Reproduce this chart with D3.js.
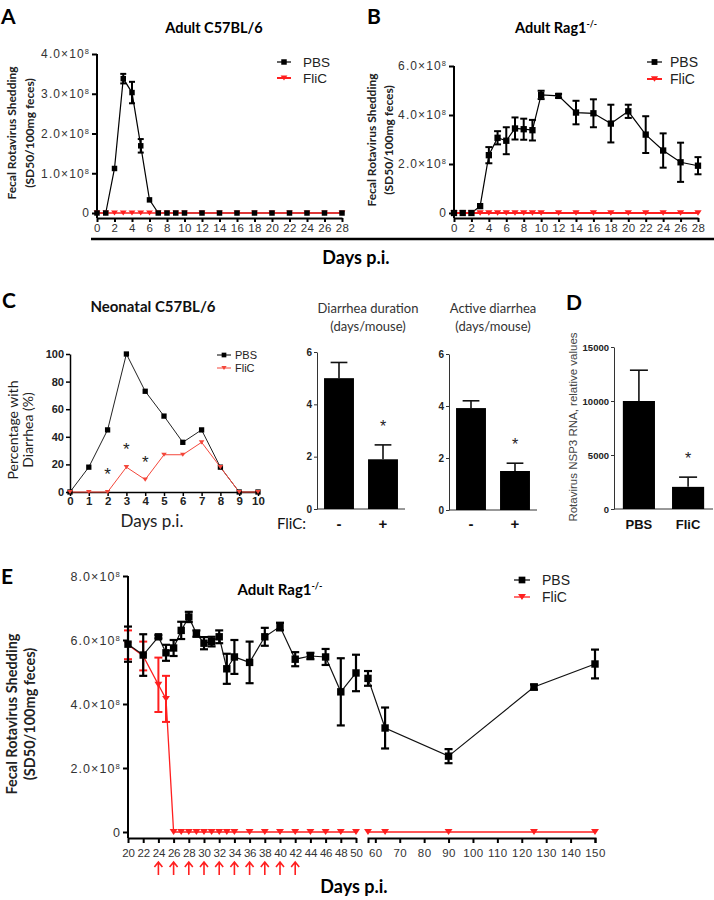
<!DOCTYPE html>
<html><head><meta charset="utf-8">
<script src="https://cdn.jsdelivr.net/npm/d3@7"></script>
<style>body{margin:0;background:#fff}</style>
</head><body>
<svg id="c" width="714" height="900"></svg>
<script>
// ================= DATA =================
// Panel A – Adult C57BL/6 (fecal shedding)
const daysA = [0,1,2,3,4,5,6,7,8,9,10,12,14,16,18,20,22,24,26,28];
const pbsA = [0,0,1.12e8,3.38e8,3.03e8,1.69e8,0.33e8,0,0,0,0,0,0,0,0,0,0,0,0,0];
const pbsAErr = [0,0,0,0.12e8,0.27e8,0.17e8,0,0,0,0,0,0,0,0,0,0,0,0,0,0];
const flicA = [0,0,0,0,0,0,0,0,0,0,0,0,0,0,0,0,0,0,0,0];
const xTicksA = [0,2,4,6,8,10,12,14,16,18,20,22,24,26,28];
const yTicksA = [0,1e8,2e8,3e8,4e8];

// Panel B – Adult Rag1-/-
const daysB = [0,1,2,3,4,5,6,7,8,9,10,12,14,16,18,20,22,24,26,28];
const pbsB = [0,0,0,0.28e8,2.36e8,3.07e8,2.95e8,3.45e8,3.42e8,3.38e8,4.82e8,4.78e8,4.1e8,4.07e8,3.65e8,4.15e8,3.2e8,2.55e8,2.07e8,1.93e8];
const pbsBErr = [0,0,0,0,0.33e8,0.27e8,0.55e8,0.45e8,0.43e8,0.42e8,0.17e8,0.08e8,0.48e8,0.57e8,0.77e8,0.27e8,0.75e8,0.7e8,0.8e8,0.35e8];
const flicB = [0,0,0,0,0,0,0,0,0,0,0,0,0,0,0,0,0,0,0,0];
const xTicksB = [0,2,4,6,8,10,12,14,16,18,20,22,24,26,28];
const yTicksB = [0,2e8,4e8,6e8];

// Panel C – Neonatal C57BL/6 (% with diarrhea)
const daysC = [0,1,2,3,4,5,6,7,8,9,10];
const pbsC = [0,18,45,100,73,55,36,45,18,0,0];
const flicC = [0,0,0,18,9,27,27,36,18,0,0];
const sigDaysC = [2,3,4];
const sigLevelC = [15,33,24];
const yTicksC = [0,20,40,60,80,100];

// Panel C bars
const flicGroups = ["-","+"];
const durationMean = [5.0,1.9];
const durationSem = [0.6,0.55];
const activeMean = [3.92,1.5];
const activeSem = [0.28,0.3];
const yTicksBar = [0,2,4,6];

// Panel D
const nsp3Groups = ["PBS","FliC"];
const nsp3Mean = [10000,2050];
const nsp3Sem = [2850,900];
const yTicksD = [0,5000,10000,15000];

// Panel E – Adult Rag1-/- long term
const daysE = [20,22,24,25,26,27,28,29,30,31,32,33,34,36,38,40,42,44,46,48,50,57,64,90,125,150];
const pbsE = [5.87e8,5.53e8,6.1e8,5.6e8,5.75e8,6.3e8,6.72e8,6.2e8,5.9e8,5.95e8,6.1e8,5.1e8,5.47e8,5.3e8,6.1e8,6.42e8,5.4e8,5.5e8,5.47e8,4.38e8,4.97e8,4.8e8,3.25e8,2.37e8,4.53e8,5.25e8];
const pbsEErr = [0.55e8,0.65e8,0.05e8,0.25e8,0.25e8,0.27e8,0.16e8,0.1e8,0.19e8,0.15e8,0.2e8,0.47e8,0.53e8,0.65e8,0.28e8,0.12e8,0.22e8,0.1e8,0.25e8,1.05e8,0.57e8,0.23e8,0.64e8,0.22e8,0.08e8,0.45e8];
const flicE = [5.85e8,5.5e8,4.6e8,4.16e8,0,0,0,0,0,0,0,0,0,0,0,0,0,0,0,0,0,0,0,0,0,0];
const flicEErr = [0.45e8,0.45e8,0.85e8,0.72e8,0,0,0,0,0,0,0,0,0,0,0,0,0,0,0,0,0,0,0,0,0,0];
const doseDaysE = [24,26,28,30,32,34,36,38,40,42];
const xTicksE1 = [20,22,24,26,28,30,32,34,36,38,40,42,44,46,48,50];
const xTicksE2 = [60,70,80,90,100,110,120,130,140,150];
const yTicksE = [0,2e8,4e8,6e8,8e8];

// ================= DRAWING =================
const svg = d3.select("#c");
const FA = "'Liberation Sans', Arial, Helvetica, sans-serif";
const FC = "Lato, 'Open Sans', sans-serif";
const RED = "#ff1f1f";
const RED_C = "#f4473b";

const triDown = { draw(ctx, size) { const w = Math.sqrt(size) * 1.25, h = w * 0.75;
  ctx.moveTo(-w/2, -h/2); ctx.lineTo(w/2, -h/2); ctx.lineTo(0, h/2); ctx.closePath(); } };
const squareT = { draw(ctx, size) { const s = Math.sqrt(size);
  ctx.rect(-s/2, -s/2, s, s); } };

function txt(g, x, y, s, o = {}) {
  const t = g.append("text").attr("x", x).attr("y", y)
    .attr("font-family", o.ff || FC).attr("font-size", o.fs || 12)
    .attr("font-weight", o.fw || "normal").attr("fill", o.fill || "#000")
    .attr("text-anchor", o.anchor || "start");
  if (o.ls) t.attr("letter-spacing", o.ls);
  if (o.rot) t.attr("transform", `rotate(${o.rot},${x},${y})`);
  t.text(s);
  return t;
}
function sciTicks(g) {
  g.selectAll(".tick text").each(function(d) {
    const t = d3.select(this); t.text(null);
    if (d === 0) { t.text("0"); return; }
    t.append("tspan").text((d / 1e8).toFixed(1) + "×10");
    t.append("tspan").attr("dy", -4).attr("font-size", "0.62em").text("8");
  });
}
function styleAxis(g, o) {
  if (o.noDomain) g.select(".domain").remove();
  g.select(".domain").attr("stroke", o.stroke || "#000").attr("stroke-width", o.sw || 1.5);
  g.selectAll(".tick line").attr("stroke", o.stroke || "#000").attr("stroke-width", o.sw || 1.5);
  g.selectAll(".tick text").attr("font-family", o.ff || FA).attr("font-size", o.fs || 11)
    .attr("fill", o.fill || "#333").attr("font-weight", o.fw || "normal");
  if (o.ls) g.selectAll(".tick text").attr("letter-spacing", o.ls);
}
function drawLine(g, days, vals, x, y, color, w, segFn) {
  const line = d3.line().x(d => x(d[0])).y(d => y(d[1]));
  const pts = days.map((d, i) => [d, vals[i]]);
  const groups = segFn ? d3.groups(pts, p => segFn(p[0])).map(a => a[1]) : [pts];
  groups.forEach(p => g.append("path").attr("d", line(p)).attr("fill", "none")
    .attr("stroke", color).attr("stroke-width", w));
}
function drawErr(g, days, vals, errs, x, y, color, w, cap) {
  days.forEach((d, i) => {
    if (!errs[i]) return;
    const cx = x(d), y1 = y(vals[i] + errs[i]), y0 = y(vals[i] - errs[i]);
    g.append("line").attr("x1", cx).attr("x2", cx).attr("y1", y1).attr("y2", y0).attr("stroke", color).attr("stroke-width", w);
    [y1, y0].forEach(yy => g.append("line").attr("x1", cx - cap/2).attr("x2", cx + cap/2)
      .attr("y1", yy).attr("y2", yy).attr("stroke", color).attr("stroke-width", w));
  });
}
function drawMarks(g, days, vals, x, y, color, type, size) {
  const sym = d3.symbol().type(type).size(size);
  days.forEach((d, i) => g.append("path").attr("d", sym())
    .attr("transform", `translate(${x(d)},${y(vals[i])})`).attr("fill", color));
}
function legendItem(g, x0, x1, tx, yy, color, type, size, label, fs, lw) {
  g.append("line").attr("x1", x0).attr("x2", x1).attr("y1", yy).attr("y2", yy).attr("stroke", color).attr("stroke-width", lw || 1.2);
  g.append("path").attr("d", d3.symbol().type(type).size(size)()).attr("transform", `translate(${(x0+x1)/2},${yy})`).attr("fill", color);
  txt(g, tx, yy + fs * 0.36, label, { ff: FA, fs: fs, fill: "#222" });
}
function titleWithSup(g, x, y, main, sup, fs) {
  const t = g.append("text").attr("x", x).attr("y", y).attr("text-anchor", "middle")
    .attr("font-family", FC).attr("font-size", fs).attr("font-weight", "bold");
  t.append("tspan").text(main);
  t.append("tspan").attr("dy", -6).attr("font-size", fs * 0.6).text(sup);
}

// ---------- Panel A ----------
{
  const g = svg.append("g");
  const x = d3.scaleLinear().domain([0, 28]).range([97, 342]);
  const y = d3.scaleLinear().domain([0, 4e8]).range([213, 54]);
  txt(g, 1, 24, "A", { fs: 21, fw: "bold" });
  txt(g, 214, 33, "Adult C57BL/6", { fs: 14.5, fw: "bold", anchor: "middle" });
  g.append("line").attr("x1", 97).attr("x2", 97).attr("y1", 54).attr("y2", 218).attr("stroke", "#000").attr("stroke-width", 2);
  const ay = g.append("g").attr("transform", "translate(97,0)")
    .call(d3.axisLeft(y).tickValues(yTicksA).tickSize(5).tickPadding(2));
  styleAxis(ay, { noDomain: true, sw: 2, fs: 12, ls: 1.1 }); sciTicks(ay);
  const ax = g.append("g").attr("transform", "translate(0,218)")
    .call(d3.axisBottom(x).tickValues(xTicksA).tickSize(4).tickSizeOuter(0).tickPadding(2));
  styleAxis(ax, { sw: 2, fs: 11.5, ls: 0.4 });
  txt(g, 16, 133, "Fecal Rotavirus Shedding", { fs: 12, fw: "bold", anchor: "middle", rot: -90, fill: "#222" });
  txt(g, 34, 133, "(SD50/100mg feces)", { fs: 12, fw: "bold", anchor: "middle", rot: -90, fill: "#222" });
  drawLine(g, daysA, pbsA, x, y, "#000", 1.2);
  drawLine(g, daysA, flicA, x, y, RED, 1.6);
  drawErr(g, daysA, pbsA, pbsAErr, x, y, "#000", 2, 6);
  drawMarks(g, daysA, flicA, x, y, RED, triDown, 30);
  drawMarks(g, daysA, pbsA, x, y, "#000", squareT, 30);
  legendItem(g, 277, 291, 303, 62, "#000", squareT, 30, "PBS", 13.5);
  legendItem(g, 277, 291, 303, 78, RED, triDown, 30, "FliC", 13.5, 2);
}

// ---------- Panel B ----------
{
  const g = svg.append("g");
  const x = d3.scaleLinear().domain([0, 28]).range([454, 698]);
  const y = d3.scaleLinear().domain([0, 6e8]).range([213, 66]);
  txt(g, 367, 24, "B", { fs: 21, fw: "bold" });
  titleWithSup(g, 556, 33, "Adult Rag1", "-/-", 14.5);
  g.append("line").attr("x1", 454).attr("x2", 454).attr("y1", 66).attr("y2", 218).attr("stroke", "#000").attr("stroke-width", 2);
  const ay = g.append("g").attr("transform", "translate(454,0)")
    .call(d3.axisLeft(y).tickValues(yTicksB).tickSize(5).tickPadding(2));
  styleAxis(ay, { noDomain: true, sw: 2, fs: 12, ls: 1.1 }); sciTicks(ay);
  const ax = g.append("g").attr("transform", "translate(0,218)")
    .call(d3.axisBottom(x).tickValues(xTicksB).tickSize(4).tickSizeOuter(0).tickPadding(2));
  styleAxis(ax, { sw: 2, fs: 11.5, ls: 0.4 });
  txt(g, 376, 140, "Fecal Rotavirus Shedding", { fs: 12, fw: "bold", anchor: "middle", rot: -90, fill: "#222" });
  txt(g, 393, 140, "(SD50/100mg feces)", { fs: 12, fw: "bold", anchor: "middle", rot: -90, fill: "#222" });
  drawLine(g, daysB, pbsB, x, y, "#000", 1.2);
  drawLine(g, daysB, flicB, x, y, RED, 1.8);
  drawErr(g, daysB, pbsB, pbsBErr, x, y, "#000", 2, 7);
  drawMarks(g, daysB, flicB, x, y, RED, triDown, 34);
  drawMarks(g, daysB, pbsB, x, y, "#000", squareT, 40);
  legendItem(g, 647, 662, 670, 62, "#000", squareT, 34, "PBS", 14);
  legendItem(g, 647, 662, 670, 79, RED, triDown, 34, "FliC", 14, 2);
}
// shared x-axis title for A and B
svg.append("line").attr("x1", 91).attr("x2", 714).attr("y1", 239).attr("y2", 239).attr("stroke", "#000").attr("stroke-width", 2.5);
txt(svg, 356, 264, "Days p.i.", { fs: 18, fw: "bold", anchor: "middle" });

// ---------- Panel C (line) ----------
{
  const g = svg.append("g");
  const x = d3.scaleLinear().domain([0, 10]).range([70, 258]);
  const y = d3.scaleLinear().domain([0, 100]).range([492, 354]);
  txt(g, 2, 308, "C", { fs: 21, fw: "bold" });
  txt(g, 153, 312, "Neonatal C57BL/6", { fs: 15, fw: "bold", anchor: "middle", fill: "#111" });
  const ay = g.append("g").attr("transform", "translate(70,0)")
    .call(d3.axisLeft(y).tickValues(yTicksC).tickSize(4).tickSizeOuter(0).tickPadding(2));
  styleAxis(ay, { sw: 1.5, fs: 11, fw: "bold", fill: "#222" });
  const ax = g.append("g").attr("transform", "translate(0,492)")
    .call(d3.axisBottom(x).tickValues(daysC).tickSize(4).tickSizeOuter(0).tickPadding(1));
  styleAxis(ax, { sw: 1.5, fs: 11.5, fw: "bold", fill: "#222" });
  txt(g, 18, 430, "Percentage with", { fs: 14, anchor: "middle", rot: -90, fill: "#222" });
  txt(g, 33, 430, "Diarrhea (%)", { fs: 14, anchor: "middle", rot: -90, fill: "#222" });
  txt(g, 152, 527, "Days p.i.", { fs: 17, anchor: "middle", fill: "#222" });
  drawLine(g, daysC, pbsC, x, y, "#222", 1);
  drawLine(g, daysC, flicC, x, y, RED_C, 1);
  drawMarks(g, daysC, pbsC, x, y, "#000", squareT, 28);
  drawMarks(g, daysC, flicC, x, y, RED_C, triDown, 20);
  sigDaysC.forEach((d, i) => txt(g, x(d), y(sigLevelC[i]) + 9, "*", { ff: FA, fs: 17, anchor: "middle", fill: "#222" }));
  legendItem(g, 217, 231, 235, 355, "#000", squareT, 22, "PBS", 11, 1);
  legendItem(g, 217, 231, 235, 368, RED_C, triDown, 18, "FliC", 11, 1);
}

// ---------- bar chart helper ----------
function barChart(g, o) {
  const x = d3.scaleBand().domain(o.cats).range(o.xr).paddingInner(o.pi).paddingOuter(o.po);
  const y = d3.scaleLinear().domain(o.yd).range(o.yr);
  const ay = g.append("g").attr("transform", `translate(${o.xr[0]},0)`)
    .call(d3.axisLeft(y).tickValues(o.ticks).tickFormat(d3.format("d")).tickSize(3).tickSizeOuter(0).tickPadding(2));
  styleAxis(ay, { sw: 1, stroke: "#333", fs: o.tfs || 10, fw: "bold", fill: "#222" });
  g.append("line").attr("x1", o.xr[0]).attr("x2", o.xr[1]).attr("y1", o.yr[0]).attr("y2", o.yr[0]).attr("stroke", "#333").attr("stroke-width", 1);
  o.cats.forEach((c, i) => {
    const bx = x(c), bw = x.bandwidth(), cx = bx + bw / 2;
    const top = y(o.vals[i] + o.errs[i]);
    g.append("line").attr("x1", cx).attr("x2", cx).attr("y1", y(o.vals[i])).attr("y2", top).attr("stroke", "#111").attr("stroke-width", 1.6);
    g.append("line").attr("x1", cx - bw * 0.28).attr("x2", cx + bw * 0.28).attr("y1", top).attr("y2", top).attr("stroke", "#111").attr("stroke-width", 1.6);
    g.append("rect").attr("x", bx).attr("y", y(o.vals[i])).attr("width", bw).attr("height", y(0) - y(o.vals[i])).attr("fill", "#000");
    txt(g, cx, o.labY, o.labels ? o.labels[i] : c, { ff: o.labFF || FA, fs: o.labFs || 15, fw: "bold", anchor: "middle", fill: "#111" });
  });
  if (o.star != null) {
    const c = o.cats[o.star];
    txt(g, x(c) + x.bandwidth() / 2, y(o.vals[o.star] + o.errs[o.star]) - 13, "*", { ff: FA, fs: 16, anchor: "middle", fill: "#222" });
  }
  return { x, y };
}

// Diarrhea duration
{
  const g = svg.append("g");
  txt(g, 368, 313, "Diarrhea duration", { fs: 13, anchor: "middle", fill: "#333" });
  txt(g, 368, 331, "(days/mouse)", { fs: 13, anchor: "middle", fill: "#333" });
  barChart(g, { cats: flicGroups, xr: [317, 405], pi: 0.32, po: 0.16, yd: [0, 6], yr: [509, 352], ticks: yTicksBar,
    vals: durationMean, errs: durationSem, labY: 529, star: 1 });
  txt(g, 306, 529, "FliC:", { fs: 15, anchor: "end", fill: "#111" });
}
// Active diarrhea
{
  const g = svg.append("g");
  txt(g, 493, 313, "Active diarrhea", { fs: 13, anchor: "middle", fill: "#333" });
  txt(g, 493, 331, "(days/mouse)", { fs: 13, anchor: "middle", fill: "#333" });
  barChart(g, { cats: flicGroups, xr: [449, 537], pi: 0.32, po: 0.16, yd: [0, 6], yr: [510, 354], ticks: yTicksBar,
    vals: activeMean, errs: activeSem, labY: 529, star: 1 });
}
// ---------- Panel D ----------
{
  const g = svg.append("g");
  txt(g, 566, 310, "D", { fs: 21, fw: "bold" });
  barChart(g, { cats: nsp3Groups, xr: [614, 713], pi: 0.347, po: 0.18, yd: [0, 15000], yr: [509, 347], ticks: yTicksD,
    vals: nsp3Mean, errs: nsp3Sem, labY: 529, labFs: 13, tfs: 9.5, star: 1 });
  txt(g, 577, 427, "Rotavirus NSP3 RNA, relative values", { ff: FA, fs: 11.5, anchor: "middle", rot: -90, fill: "#444" });
}

// ---------- Panel E ----------
{
  const g = svg.append("g");
  const x1 = d3.scaleLinear().domain([20, 50]).range([128, 356]);
  const x2 = d3.scaleLinear().domain([57, 150]).range([368, 595]);
  const x = d => d <= 50 ? x1(d) : x2(d);
  const seg = d => d <= 50 ? 0 : 1;
  const y = d3.scaleLinear().domain([0, 8e8]).range([832, 576]);
  txt(g, 1, 584, "E", { fs: 21, fw: "bold" });
  titleWithSup(g, 280, 595, "Adult Rag1", "-/-", 15);
  g.append("line").attr("x1", 128).attr("x2", 128).attr("y1", 576).attr("y2", 838).attr("stroke", "#000").attr("stroke-width", 2);
  const ay = g.append("g").attr("transform", "translate(128,0)")
    .call(d3.axisLeft(y).tickValues(yTicksE).tickSize(5).tickPadding(2));
  styleAxis(ay, { noDomain: true, sw: 2, fs: 12.5, ls: 1.1 }); sciTicks(ay);
  const ax1 = g.append("g").attr("transform", "translate(0,838)")
    .call(d3.axisBottom(x1).tickValues(xTicksE1).tickSize(5).tickSizeOuter(0).tickPadding(6));
  styleAxis(ax1, { sw: 2, fs: 11.5, ls: -0.2 });
  const ax2 = g.append("g").attr("transform", "translate(0,838)")
    .call(d3.axisBottom(x2).tickValues(xTicksE2).tickSize(5).tickSizeOuter(5).tickPadding(6));
  styleAxis(ax2, { sw: 2, fs: 11.5, ls: 0.4 });
  txt(g, 17, 714, "Fecal Rotavirus Shedding", { fs: 14.5, fw: "bold", anchor: "middle", rot: -90, fill: "#222" });
  txt(g, 35, 714, "(SD50/100mg feces)", { fs: 14.5, fw: "bold", anchor: "middle", rot: -90, fill: "#222" });
  txt(g, 354, 893, "Days p.i.", { fs: 18, fw: "bold", anchor: "middle" });
  drawErr(g, daysE, flicE, flicEErr, x, y, RED, 2, 8);
  drawLine(g, daysE, flicE, x, y, RED, 1.3, seg);
  drawLine(g, daysE, pbsE, x, y, "#111", 1.2, seg);
  drawErr(g, daysE, pbsE, pbsEErr, x, y, "#000", 2.2, 8);
  drawMarks(g, daysE, flicE, x, y, RED, triDown, 40);
  drawMarks(g, daysE, pbsE, x, y, "#000", squareT, 55);
  legendItem(g, 514, 530, 542, 580, "#000", squareT, 45, "PBS", 14);
  legendItem(g, 514, 530, 542, 597, RED, triDown, 40, "FliC", 14, 1.3);
  doseDaysE.forEach(d => {
    const cx = x1(d);
    g.append("path").attr("d", `M${cx},875 L${cx},862 M${cx-4},867 L${cx},862 L${cx+4},867`)
      .attr("fill", "none").attr("stroke", RED).attr("stroke-width", 1.6);
  });
}
</script>
</body></html>
